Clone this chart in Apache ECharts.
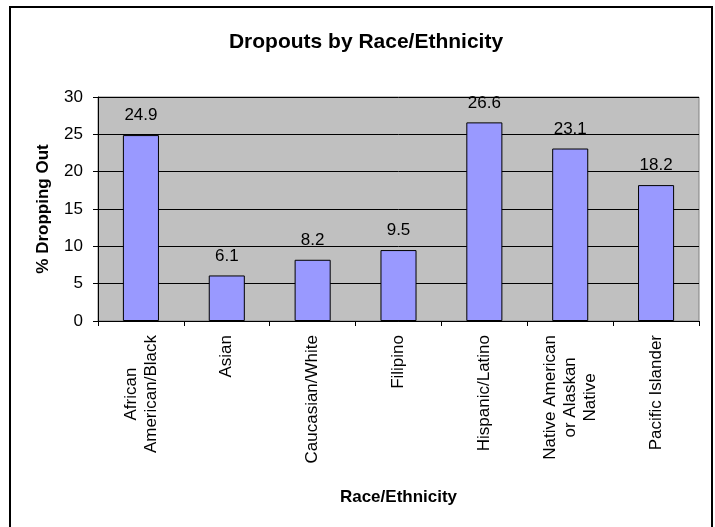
<!DOCTYPE html>
<html>
<head>
<meta charset="utf-8">
<script src="https://cdn.jsdelivr.net/npm/echarts@6/dist/echarts.min.js"></script>
<style>
  html, body { margin: 0; padding: 0; background: #fff; }
  #container { width: 715px; height: 527px; }
</style>
</head>
<body>
<div id="container"></div>
<script>
var categories = [
    'African\nAmerican/Black',
    'Asian',
    'Caucasian/White',
    'Filipino',
    'Hispanic/Latino',
    'Native American\nor Alaskan\nNative',
    'Pacific Islander'
];
var dropoutRates = [24.9, 6.1, 8.2, 9.5, 26.6, 23.1, 18.2];

var dom = document.getElementById('container');
var myChart = echarts.init(dom);

var font = 'Liberation Sans, Arial, sans-serif';

var option = {
    animation: false,
    textStyle: { fontFamily: font },
    title: {
        text: 'Dropouts by Race/Ethnicity',
        left: 361,
        top: 27,
        textAlign: 'center',
        textStyle: { fontSize: 21, fontWeight: 'bold', color: '#000', fontFamily: font }
    },
    graphic: [{
        type: 'rect',
        shape: { x: 10, y: 7, width: 702, height: 530 },
        style: { fill: 'none', stroke: '#000', lineWidth: 2 },
        silent: true
    }],
    grid: {
        left: 98,
        right: 16,
        top: 97,
        bottom: 206,
        show: true,
        backgroundColor: '#C0C0C0',
        borderColor: '#808080',
        borderWidth: 1
    },
    xAxis: {
        type: 'category',
        data: categories,
        name: 'Race/Ethnicity',
        nameLocation: 'middle',
        nameGap: 168,
        nameTextStyle: { fontSize: 17, fontWeight: 'bold', color: '#000', fontFamily: font },
        axisLine: { lineStyle: { color: '#000', width: 1 } },
        axisTick: { show: true, length: 5, inside: false, lineStyle: { color: '#000' } },
        axisLabel: {
            rotate: 90,
            margin: 14,
            interval: 0,
            color: '#000',
            fontSize: 17,
            lineHeight: 20,
            fontFamily: font,
            formatter: function (v) {
                return v.split('\n').map(function (s) { return '{c|' + s + '}'; }).join('\n');
            },
            rich: {
                c: { align: 'center', fontSize: 17, lineHeight: 20, color: '#000', fontFamily: font }
            }
        }
    },
    yAxis: {
        type: 'value',
        min: 0,
        max: 30,
        interval: 5,
        name: '% Dropping Out',
        nameLocation: 'middle',
        nameGap: 46,
        nameTextStyle: { fontSize: 17, fontWeight: 'bold', color: '#000', fontFamily: font },
        axisLine: { show: true, lineStyle: { color: '#000', width: 1 } },
        axisTick: { show: true, length: 5, lineStyle: { color: '#000' } },
        axisLabel: { color: '#000', fontSize: 17, margin: 15, fontFamily: font },
        splitLine: { show: true, lineStyle: { color: '#000', width: 1 } }
    },
    series: [{
        type: 'bar',
        data: dropoutRates,
        barWidth: '42%',
        itemStyle: { color: '#9999FF', borderColor: '#000', borderWidth: 1 },
        label: {
            show: true,
            position: 'top',
            distance: 11,
            color: '#000',
            fontSize: 17,
            fontFamily: font
        }
    }]
};

myChart.setOption(option, true);
</script>
</body>
</html>
